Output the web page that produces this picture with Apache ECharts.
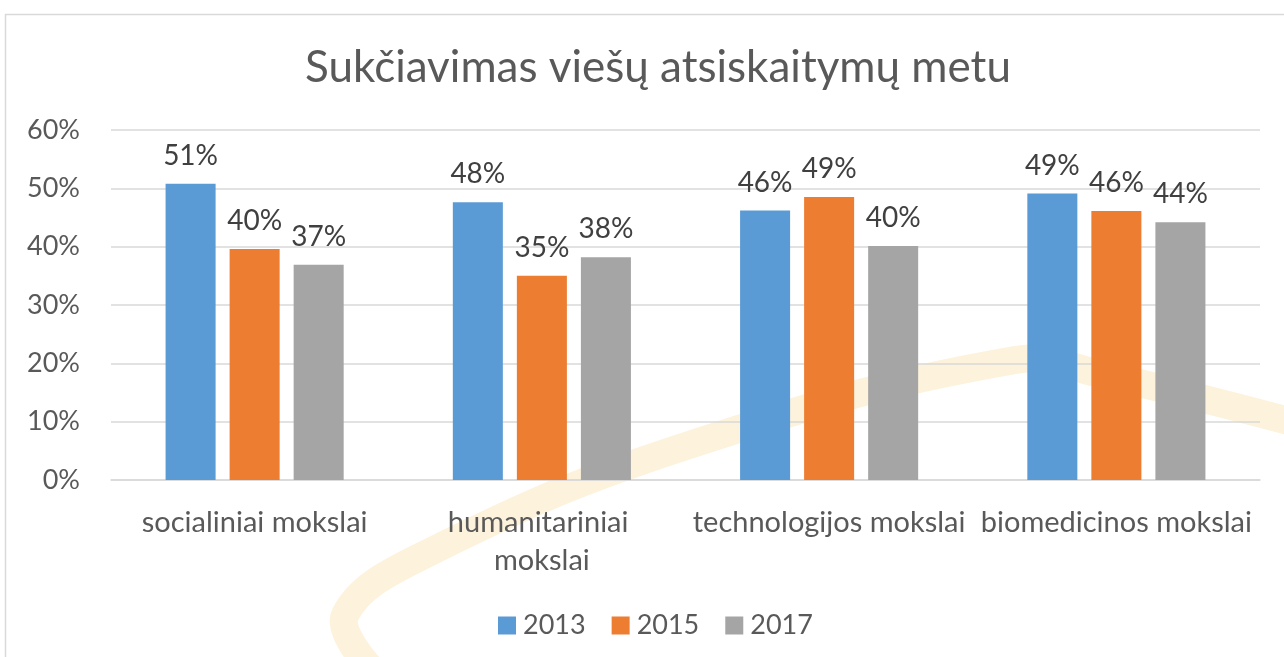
<!DOCTYPE html>
<html>
<head>
<meta charset="utf-8">
<title>Sukčiavimas viešų atsiskaitymų metu</title>
<script src="https://cdn.jsdelivr.net/npm/echarts@6/dist/echarts.min.js"></script>
<style>
  html, body { margin: 0; padding: 0; background: #fff; }
  #chart { width: 1284px; height: 657px; }
</style>
</head>
<body>
<div id="chart"></div>
<script>
const categories = ['socialiniai mokslai', 'humanitariniai mokslai', 'technologijos mokslai', 'biomedicinos mokslai'];
const years = ['2013', '2015', '2017'];
const values2013 = [50.8, 47.6, 46.2, 49.1];
const values2015 = [39.6, 35.0, 48.5, 46.1];
const values2017 = [36.9, 38.2, 40.1, 44.2];
const yTicks = [0, 10, 20, 30, 40, 50, 60];
const colors = ['#5b9bd5', '#ed7d31', '#a5a5a5'];

const font = 'Lato, "Noto Sans", sans-serif';
const myChart = echarts.init(document.getElementById('chart'));

const mkSeries = (name, data, i) => ({
  name: name,
  type: 'bar',
  data: data,
  barGap: '28%',
  barCategoryGap: '38%',
  itemStyle: { color: colors[i] },
  label: {
    show: true,
    position: 'top',
    distance: 14,
    color: '#404040',
    fontFamily: font,
    fontSize: 28,
    formatter: p => Math.round(p.value) + '%'
  }
})

const option = {
  backgroundColor: '#fff',
  animation: false,
  textStyle: { fontFamily: font },
  title: {
    text: 'Sukčiavimas viešų atsiskaitymų metu',
    left: 653,
    textAlign: 'center',
    top: 41,
    textStyle: { fontFamily: font, fontSize: 44, fontWeight: 'normal', color: '#595959' }
  },
  // chart frame + faint watermark arc in the background
  graphic: [
    {
      type: 'rect',
      z: -10,
      silent: true,
      shape: { x: 5.5, y: 14.5, width: 1300, height: 700 },
      style: { fill: 'none', stroke: '#d9d9d9', lineWidth: 1.5 }
    },
    {
      type: 'polyline',
      z: -5,
      silent: true,
      shape: {
        points: [[372, 670], [345, 615], [430, 552], [680, 448], [1015, 360], [1100, 374], [1300, 424]],
        smooth: 0.4
      },
      style: { fill: 'none', stroke: '#fdf2dc', lineWidth: 28, lineCap: 'round' }
    }
  ],
  legend: {
    data: years,
    left: 493,
    top: 607,
    itemWidth: 18,
    itemHeight: 18,
    itemGap: 26,
    icon: 'rect',
    textStyle: { fontFamily: font, fontSize: 27, color: '#595959', padding: [0, 0, 0, 2] }
  },
  grid: {
    left: 111,
    right: 24,
    top: 130,
    bottom: 177,
    containLabel: false
  },
  xAxis: {
    type: 'category',
    data: categories,
    axisLine: { show: true, lineStyle: { color: '#d9d9d9', width: 1.5 } },
    axisTick: { show: false },
    axisLabel: {
      interval: 0,
      margin: 24,
      color: '#595959',
      fontFamily: font,
      fontSize: 29,
      lineHeight: 38,
      width: 276,
      overflow: 'break'
    }
  },
  yAxis: {
    type: 'value',
    min: yTicks[0],
    max: yTicks[yTicks.length - 1],
    interval: 10,
    axisLine: { show: false },
    axisTick: { show: false },
    splitLine: { lineStyle: { color: '#d9d9d9', width: 1.5 } },
    axisLabel: {
      margin: 31,
      color: '#595959',
      fontFamily: font,
      fontSize: 27,
      formatter: v => v + '%'
    }
  },
  series: [
    mkSeries(years[0], values2013, 0),
    mkSeries(years[1], values2015, 1),
    mkSeries(years[2], values2017, 2)
  ]
};
myChart.setOption(option);
</script>
</body>
</html>
